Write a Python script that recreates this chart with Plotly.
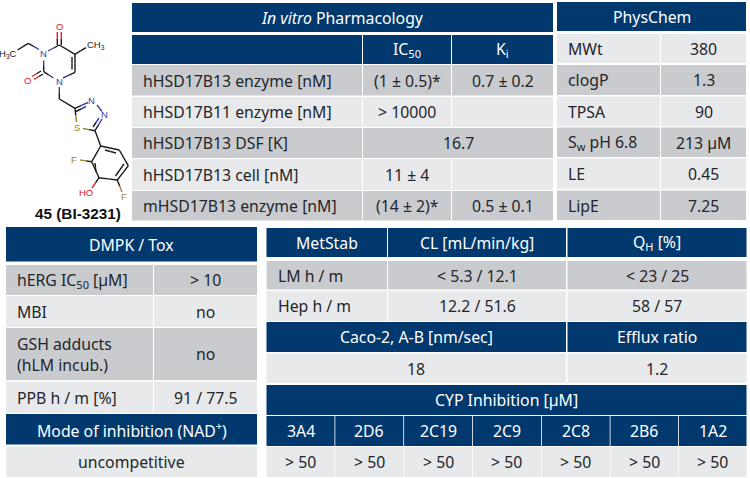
import plotly.graph_objects as go

# ---------- table content ----------
pharm_title = "<i>In vitro</i> Pharmacology"
pharm_cols = ["IC<sub>50</sub>", "K<sub>i</sub>"]
pharm_labels = ["hHSD17B13 enzyme [nM]", "hHSD17B11 enzyme [nM]", "hHSD17B13 DSF [K]",
                "hHSD17B13 cell [nM]", "mHSD17B13 enzyme [nM]"]
pharm_ic50 = ["(1 ± 0.5)*", "> 10000", None, "11 ± 4", "(14 ± 2)*"]
pharm_ki = ["0.7 ± 0.2", "", None, "", "0.5 ± 0.1"]
pharm_merged = "16.7"

phys_title = "PhysChem"
phys_labels = ["MWt", "clogP", "TPSA", "S<sub>w</sub> pH 6.8", "LE", "LipE"]
phys_values = ["380", "1.3", "90", "213 µM", "0.45", "7.25"]

dmpk_title = "DMPK / Tox"
dmpk_labels = ["hERG IC<sub>50</sub> [µM]", "MBI", "GSH adducts<br>(hLM incub.)", "PPB h / m [%]"]
dmpk_values = ["> 10", "no", "no", "91 / 77.5"]
mode_title = "Mode of inhibition (NAD<sup>+</sup>)"
mode_value = "uncompetitive"

met_heads = ["MetStab", "CL [mL/min/kg]", "Q<sub>H</sub> [%]"]
met_labels = ["LM h / m", "Hep h / m"]
met_cl = ["< 5.3 / 12.1", "12.2 / 51.6"]
met_qh = ["< 23 / 25", "58 / 57"]
caco_heads = ["Caco-2, A-B [nm/sec]", "Efflux ratio"]
caco_values = ["18", "1.2"]
cyp_title = "CYP Inhibition [µM]"
cyp_names = ["3A4", "2D6", "2C19", "2C9", "2C8", "2B6", "1A2"]
cyp_values = ["> 50", "> 50", "> 50", "> 50", "> 50", "> 50", "> 50"]
compound_name = "45 (BI-3231)"

# ---------- styling ----------
NAVY, DARK, LIGHT = "#01396E", "#C9CBCF", "#E8E9EB"
INK = "#23262A"
FONT = "Noto Sans"
SIZE = 15.8

shapes, annos = [], []

def cell(x0, x1, y0, y1, fill, text="", left=False):
    shapes.append(dict(type="rect", x0=x0, x1=x1, y0=y0, y1=y1, fillcolor=fill,
                       line_width=0, layer="below", xref="x", yref="y"))
    if text:
        annos.append(dict(
            x=(x0 + 9) if left else (x0 + x1) / 2, y=(y0 + y1) / 2 + 0.4,
            text=text, showarrow=False, xref="x", yref="y",
            xanchor="left" if left else "center", yanchor="middle", align="left",
            font=dict(family=FONT, size=SIZE, color="#FFFFFF" if fill == NAVY else INK)))

# In vitro pharmacology
cell(132, 553, 3, 32, NAVY, pharm_title)
cell(132, 362, 35, 64, NAVY)
cell(363, 451, 35, 64, NAVY, pharm_cols[0])
cell(452, 553, 35, 64, NAVY, pharm_cols[1])
p_rows = [(65, 95.5), (97, 127), (128, 158), (159, 190), (191, 220.5)]
for i, (y0, y1) in enumerate(p_rows):
    f = DARK if i % 2 == 0 else LIGHT
    cell(132, 362, y0, y1, f, pharm_labels[i], left=True)
    if pharm_ic50[i] is None:
        cell(363, 553, y0, y1, f, pharm_merged)
    else:
        cell(363, 451, y0, y1, f, pharm_ic50[i])
        cell(452, 553, y0, y1, f, pharm_ki[i])

# PhysChem
cell(557, 746, 2, 31, NAVY, phys_title)
ph_rows = [(34, 63), (65, 95), (96.5, 126), (127.5, 157), (158.5, 189), (190.5, 220)]
for i, (y0, y1) in enumerate(ph_rows):
    f = LIGHT if i % 2 == 0 else DARK
    cell(557, 660, y0, y1, f, phys_labels[i], left=True)
    cell(661, 746, y0, y1, f, phys_values[i])

# DMPK / Tox
cell(6, 257, 227, 261.5, NAVY, dmpk_title)
d_rows = [(265, 295), (296, 327), (328, 380), (381.5, 413)]
for i, (y0, y1) in enumerate(d_rows):
    f = DARK if i % 2 == 0 else LIGHT
    cell(6, 153, y0, y1, f, dmpk_labels[i], left=True)
    cell(154, 257, y0, y1, f, dmpk_values[i])
cell(6, 257, 414, 444.5, NAVY, mode_title)
cell(6, 257, 446.5, 477, LIGHT, mode_value)

# MetStab
col_x = [(266.5, 387), (388, 566), (567.5, 746.5)]
for (x0, x1), t in zip(col_x, met_heads):
    cell(x0, x1, 228, 257, NAVY, t)
for i, (y0, y1) in enumerate([(261, 289.5), (291, 321)]):
    f = DARK if i == 0 else LIGHT
    cell(*col_x[0], y0, y1, f, met_labels[i], left=True)
    cell(*col_x[1], y0, y1, f, met_cl[i])
    cell(*col_x[2], y0, y1, f, met_qh[i])

# Caco-2
cell(266.5, 566, 322, 352, NAVY, caco_heads[0])
cell(567.5, 746.5, 322, 352, NAVY, caco_heads[1])
cell(266.5, 566, 353.5, 383, LIGHT, caco_values[0])
cell(567.5, 746.5, 353.5, 383, LIGHT, caco_values[1])

# CYP
cell(266.5, 746.5, 385, 415, NAVY, cyp_title)
cyp_edges = [266.5, 334.5, 403.3, 472, 541, 609.7, 678, 746.5]
for i, name in enumerate(cyp_names):
    x0, x1 = cyp_edges[i] + (0.8 if i else 0), cyp_edges[i + 1]
    cell(x0, x1, 416, 446, NAVY, name)
    cell(x0, x1, 447, 477, LIGHT, cyp_values[i])

# ---------- molecule (drawing in picture pixels) ----------
C, N, O, S_, F_ = "#1B1B1B", "#3A3F9E", "#E3202A", "#8F8A1E", "#A8842F"
bonds = [
    # (x0, y0, x1, y1, colour of start half, colour of end half)
    (61.3, 32, 61.3, 45, O, C), (57.3, 32, 57.3, 45, O, C),
    (59.3, 45, 75, 54.3, C, C), (75, 54.3, 75, 72.3, C, C), (72, 57, 72, 69.5, C, C),
    (75, 72.3, 63, 78, C, N), (53.5, 78, 43.7, 71.7, N, C), (43.7, 71.7, 43.7, 60.5, C, N),
    (48, 51, 59.3, 45, N, C),
    (41, 71, 32, 76.5, C, O), (43, 74, 34, 79.5, C, O),
    (39, 49.5, 28.3, 43.3, N, C), (28.3, 43.3, 17.5, 50, C, C),
    (75, 54.3, 86, 47.6, C, C),
    (59.3, 87, 59.3, 99, N, C), (59.3, 99, 75, 108.3, C, C),
    (75, 108.3, 88, 102.5, C, N), (76, 111.5, 86, 106.5, C, N),
    (97, 105, 102, 111.5, N, N), (102, 119, 95, 130.7, N, C), (99, 118, 93, 127, N, C),
    (95, 130.7, 83, 128.5, C, S_), (76.5, 122, 75, 108.3, S_, C),
    (95, 130.7, 100.7, 146, C, C),
    (100.7, 146, 119.3, 150, C, C), (119.3, 150, 128.3, 165.7, C, C), (128.3, 165.7, 117.3, 180, C, C),
    (117.3, 180, 99, 177.7, C, C), (99, 177.7, 91.7, 161.7, C, C), (91.7, 161.7, 100.7, 146, C, C),
    (105, 150, 116, 153, C, C), (124, 164, 115.5, 176, C, C), (96, 172, 95, 163, C, C),
    (91.7, 161.7, 80, 160, C, F_), (99, 177.7, 92, 188, C, O), (117.3, 180, 122, 192, C, F_),
]
atoms = [
    ("O", 59.3, 26, O), ("O", 27.7, 80, O), ("N", 43.7, 53, N), ("N", 59, 81, N),
    ("CH<sub>3</sub>", 96, 45, C), ("H<sub>3</sub>C", 7.5, 54, C),
    ("N", 91.7, 100.5, N), ("N", 104, 114.5, N), ("S", 77, 127, S_),
    ("F", 74, 159, F_), ("HO", 86, 192.5, O), ("F", 124, 196.5, F_),
]
for x0, y0, x1, y1, c0, c1 in bonds:
    mx, my = (x0 + x1) / 2, (y0 + y1) / 2
    for a, b, c, d, col in [(x0, y0, mx, my, c0), (mx, my, x1, y1, c1)]:
        shapes.append(dict(type="line", x0=a, y0=b, x1=c, y1=d, xref="x", yref="y",
                           line=dict(color=col, width=1.4)))
for t, x, y, col in atoms:
    annos.append(dict(x=x, y=y, text=t, showarrow=False, xref="x", yref="y",
                      font=dict(family="Liberation Sans", size=9.5, color=col)))
annos.append(dict(x=77.5, y=213.5, text=f"<b>{compound_name}</b>", showarrow=False, xref="x", yref="y",
                  font=dict(family="Liberation Sans", size=15.3, color="#111111")))

fig = go.Figure()
fig.update_layout(
    width=750, height=478, margin=dict(l=0, r=0, t=0, b=0),
    paper_bgcolor="white", plot_bgcolor="white", showlegend=False,
    xaxis=dict(range=[0, 750], visible=False, fixedrange=True),
    yaxis=dict(range=[478, 0], visible=False, fixedrange=True),
    shapes=shapes, annotations=annos,
)
fig.write_html("out.html", config=dict(displayModeBar=False),
               post_script="document.body.style.margin='0';document.documentElement.style.overflow='hidden';")
